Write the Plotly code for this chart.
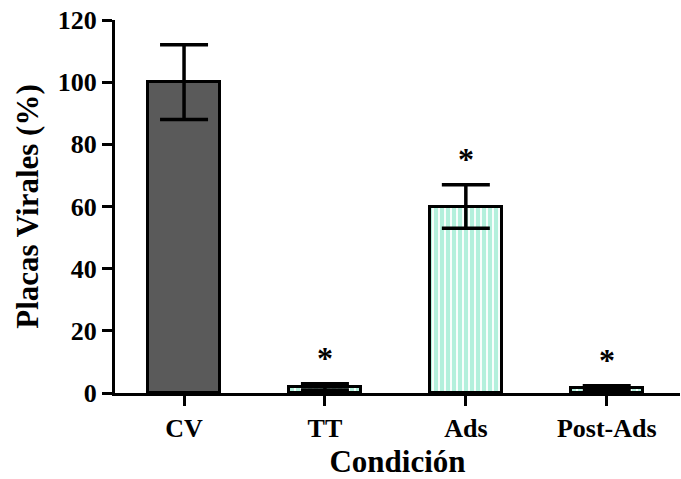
import plotly.graph_objects as go

# Data
categories = ["CV", "TT", "Ads", "Post-Ads"]
values = [100, 2, 60, 1.5]
errors = [12, 1, 7, 0.8]
significant = [False, True, True, True]

FONT = "Liberation Serif"
MINT = "#b3f0dc"

fill_colors = ["#5a5a5a", MINT, MINT, MINT]
pattern_shapes = ["", "|", "|", "|"]

fig = go.Figure()
fig.add_trace(go.Bar(
    x=categories,
    y=values,
    width=0.51,
    marker=dict(
        color=fill_colors,
        line=dict(color="black", width=3),
        pattern=dict(shape=pattern_shapes, fgcolor=MINT, bgcolor="white",
                     fgopacity=1, size=6, solidity=0.7, fillmode="replace"),
    ),
    error_y=dict(type="data", array=errors, visible=True,
                 color="black", thickness=3.5, width=24),
    showlegend=False,
))

# Significance markers above the error bars
for cat, v, e, s in zip(categories, values, errors, significant):
    if s:
        fig.add_annotation(x=cat, y=v + e, text="<b>*</b>", showarrow=False,
                           yshift=26, font=dict(family=FONT, size=32, color="black"))

fig.update_layout(
    width=681, height=479,
    margin=dict(l=115, r=1, t=20, b=86),
    paper_bgcolor="white", plot_bgcolor="white",
    font=dict(family=FONT, color="black"),
    bargap=0,
)
fig.update_xaxes(
    type="category", range=[-0.49, 3.52],
    showline=True, linecolor="black", linewidth=3,
    ticks="outside", ticklen=10, tickwidth=3, tickcolor="black",
    tickfont=dict(family=FONT, size=26, color="black", weight="bold"),
    title=dict(text="<b>Condición</b>", font=dict(family=FONT, size=31), standoff=12),
    showgrid=False, zeroline=False,
)
fig.update_yaxes(
    range=[0, 120], tickvals=[0, 20, 40, 60, 80, 100, 120],
    showline=True, linecolor="black", linewidth=3,
    ticks="outside", ticklen=10, tickwidth=3, tickcolor="black",
    tickfont=dict(family=FONT, size=26, color="black", weight="bold"),
    title=dict(text="<b>Placas Virales (%)</b>", font=dict(family=FONT, size=31), standoff=10),
    showgrid=False, zeroline=False,
)

fig.write_html("out.html")
